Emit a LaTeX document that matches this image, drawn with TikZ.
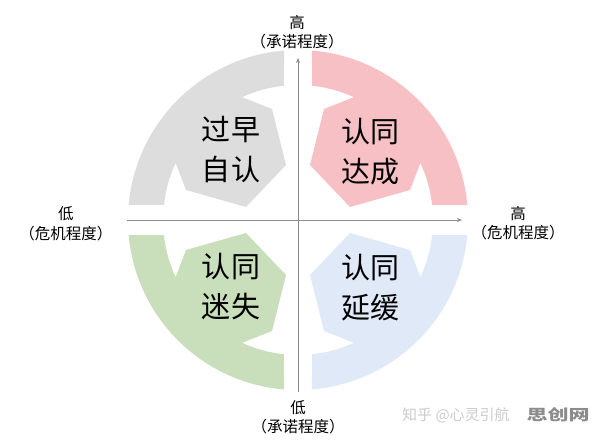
\documentclass[tikz,border=0pt]{standalone}
\usepackage{fontspec}
\setmainfont{Noto Sans CJK SC}
\usetikzlibrary{arrows.meta}
\definecolor{qgray}{RGB}{221,221,221}
\definecolor{qpink}{RGB}{246,192,196}
\definecolor{qgreen}{RGB}{201,223,187}
\definecolor{qblue}{RGB}{224,233,248}
\definecolor{axisgray}{RGB}{140,140,140}
\newcommand{\quadpath}{(85.3:170) arc[start angle=85.3,end angle=5.1,radius=170] -- (6.4:135) arc[start angle=6.4,end angle=25,radius=135] -- (112,30) -- (52,13) -- (12,55) -- (26,111) -- (65.5:135) arc[start angle=65.5,end angle=84,radius=135] -- cycle}
\tikzset{
  axisline/.style={draw=axisgray, line width=0.7pt, -{Stealth[length=5pt,width=4pt]}},
  biglab/.style={align=center, inner sep=0pt, font=\fontsize{29}{40}\selectfont},
  smalllab/.style={align=center, inner sep=0pt, font=\fontsize{15.5}{19.5}\selectfont},
  wmark/.style={inner sep=0pt, text=black!20, font=\fontsize{15}{18}\selectfont}
}
\begin{document}
\begin{tikzpicture}[x=1pt,y=1pt]
\useasboundingbox[fill=white] (-298,-223) rectangle (298,220);
% quadrant shapes
\fill[qpink] \quadpath;
\begin{scope}[xscale=-1]\fill[qgray] \quadpath;\end{scope}
\begin{scope}[yscale=-1]\fill[qblue] \quadpath;\end{scope}
\begin{scope}[xscale=-1,yscale=-1]\fill[qgreen] \quadpath;\end{scope}
% axes
\coordinate (vb) at (0,-172);
\coordinate (vt) at (0,162);
\coordinate (hl) at (-171,0);
\coordinate (hr) at (164,0);
\draw[axisline] (vb) -- (vt);
\draw[axisline] (hl) -- (hr);
% quadrant labels
\node[biglab] (tl) at (-67,70) {过早\\自认};
\node[biglab] (tr) at (72,68) {认同\\达成};
\node[biglab] (bl) at (-67,-67) {认同\\迷失};
\node[biglab] (br) at (72,-68) {认同\\延缓};
% axis labels
\node[smalllab] (ltop) at (-1,188) {高\\（承诺程度）};
\node[smalllab] (lbot) at (0,-197) {低\\（承诺程度）};
\node[smalllab] (lleft) at (-232,-4) {低\\（危机程度）};
\node[smalllab] (lright) at (220,-3) {高\\（危机程度）};
% watermark
\node[wmark, anchor=west] (wm1) at (104,-195) {知乎 @心灵引航};
\node[inner sep=0pt, anchor=east, text=black!45, font=\fontsize{15}{18}\selectfont\bfseries, xscale=1.4] (wm2) at (292,-195) {思创网};
\end{tikzpicture}
\end{document}
